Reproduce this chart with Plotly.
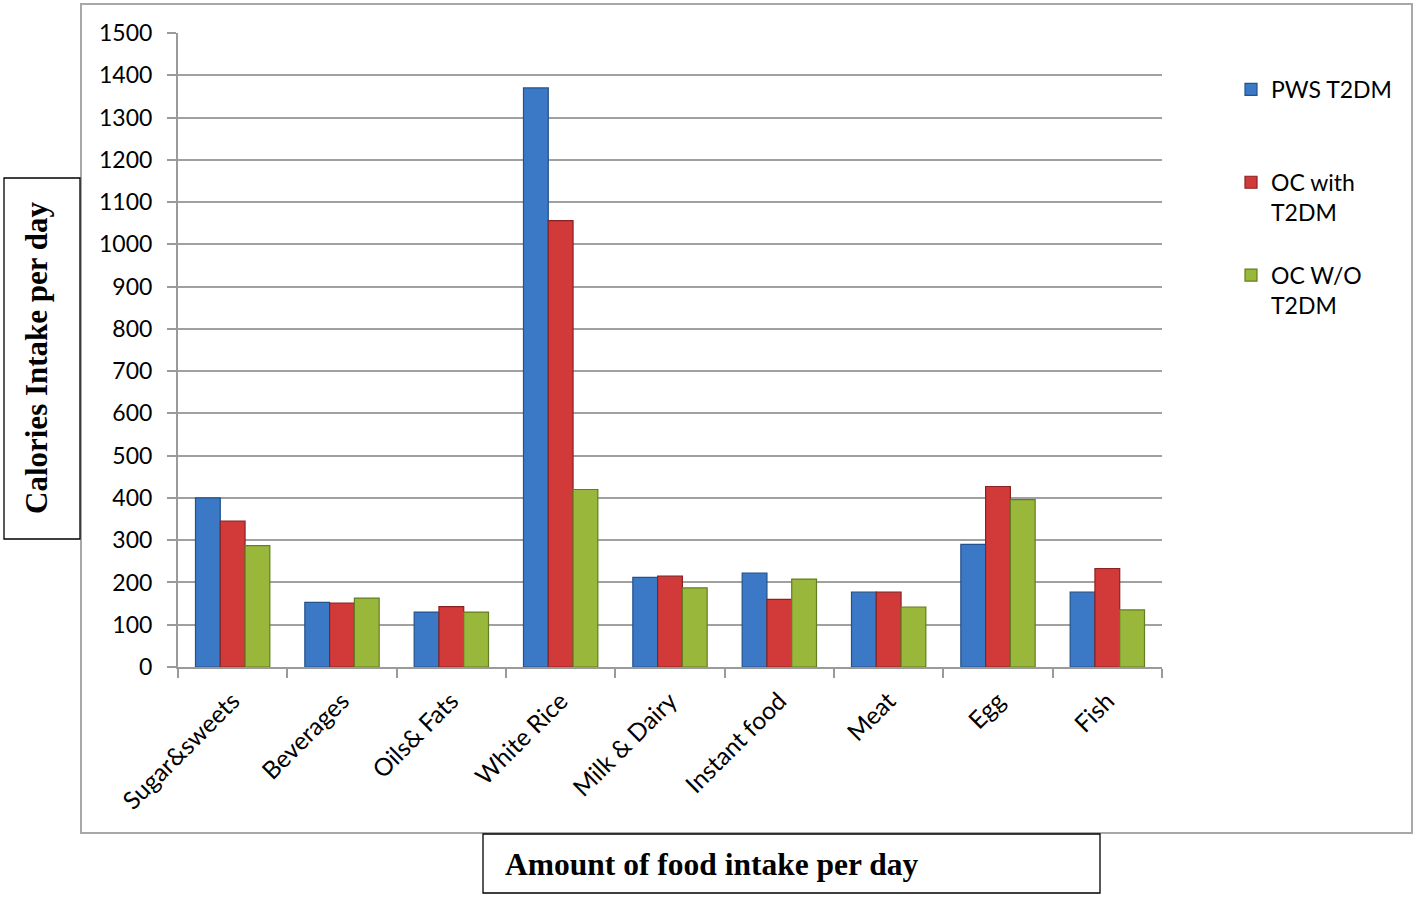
import plotly.graph_objects as go

categories = ["Sugar&sweets", "Beverages", "Oils& Fats", "White Rice", "Milk & Dairy",
              "Instant food", "Meat", "Egg", "Fish"]
pws_t2dm = [400, 153, 130, 1370, 212, 222, 177, 290, 177]
oc_with_t2dm = [345, 151, 143, 1056, 215, 160, 177, 427, 233]
oc_wo_t2dm = [287, 163, 130, 420, 187, 208, 142, 396, 135]
series_names = ["PWS T2DM<br> ", "OC with<br>T2DM", "OC W/O<br>T2DM"]
y_ticks = list(range(0, 1501, 100))

W, H = 1418, 898
L, R, T, B = 178, 256, 33, 231
PW, PH = W - L - R, H - T - B


def px_x(x):
    return (x - L) / PW


def px_y(y):
    return (H - B - y) / PH


fill_colors = ["#3b78c6", "#d23a3a", "#99b83b"]
line_colors = ["#24528c", "#8a2222", "#637d20"]

fig = go.Figure()
for name, vals, fc, lc in zip(series_names, [pws_t2dm, oc_with_t2dm, oc_wo_t2dm],
                              fill_colors, line_colors):
    fig.add_trace(go.Bar(
        x=categories, y=vals, name=name, legendgroup=name,
        marker=dict(color=fc, line=dict(color=lc, width=1.2)),
    ))

fig.update_layout(
    width=W, height=H,
    margin=dict(l=L, r=R, t=T, b=B),
    paper_bgcolor="white", plot_bgcolor="white",
    barmode="group", bargap=0.32, bargroupgap=0,
    font=dict(family="Lato, 'Open Sans', sans-serif", size=22, color="#000"),
    showlegend=True,
    legend=dict(
        x=px_x(1231), y=px_y(68), xanchor="left", yanchor="top",
        font=dict(size=23, family="Lato, sans-serif", color="#000"),
        valign="top", tracegroupgap=30, bgcolor="rgba(0,0,0,0)",
    ),
    xaxis=dict(
        type="category", tickangle=-45, tickson="boundaries",
        ticks="outside", ticklen=9, tickwidth=2, tickcolor="#9a9a9a",
        showline=True, linecolor="#9a9a9a", linewidth=2,
        showgrid=False, tickfont=dict(size=24.5), ticklabelstandoff=8,
    ),
    yaxis=dict(
        range=[0, 1500], tickvals=y_ticks, ticks="outside", ticklen=9,
        tickwidth=2, tickcolor="#9a9a9a",
        showline=True, linecolor="#9a9a9a", linewidth=2,
        showgrid=True, gridcolor="#a0a0a0", gridwidth=2,
        zeroline=False, tickfont=dict(size=23), ticklabelstandoff=10,
    ),
)

shapes = [
    dict(type="rect", xref="paper", yref="paper",
         x0=px_x(81), x1=px_x(1412), y0=px_y(833), y1=px_y(4),
         line=dict(color="#a8a8a8", width=2), fillcolor="rgba(0,0,0,0)", layer="below"),
    dict(type="rect", xref="paper", yref="paper",
         x0=px_x(4), x1=px_x(80), y0=px_y(539), y1=px_y(178),
         line=dict(color="#000", width=1.3), fillcolor="white"),
    dict(type="rect", xref="paper", yref="paper",
         x0=px_x(483), x1=px_x(1100), y0=px_y(893), y1=px_y(834),
         line=dict(color="#000", width=1.3), fillcolor="white"),
]
fig.update_layout(shapes=shapes)

fig.add_annotation(
    text="<b>Calories Intake per day</b>", textangle=-90,
    xref="paper", yref="paper", x=px_x(37), y=px_y(358),
    xanchor="center", yanchor="middle", showarrow=False,
    font=dict(family="'Liberation Serif', 'Times New Roman', serif", size=31, color="#000"),
)
fig.add_annotation(
    text="<b>Amount of food intake per day</b>",
    xref="paper", yref="paper", x=px_x(503), y=px_y(864),
    xanchor="left", yanchor="middle", showarrow=False,
    font=dict(family="'Liberation Serif', 'Times New Roman', serif", size=31.5, color="#000"),
)

fig.write_html(
    "out.html",
    config={"displayModeBar": False},
    post_script="document.body.style.margin='0';document.body.style.overflow='hidden';",
)
